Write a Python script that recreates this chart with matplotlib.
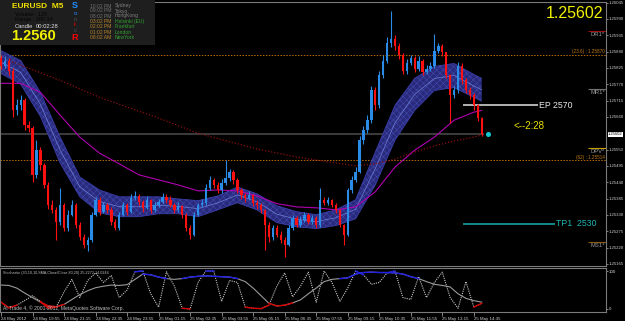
import matplotlib
matplotlib.use("Agg")
import matplotlib.pyplot as plt
import numpy as np
from matplotlib.patches import Rectangle
from matplotlib.transforms import blended_transform_factory

plt.rcParams['font.family'] = ['Liberation Sans', 'DejaVu Sans']
plt.rcParams['hatch.linewidth'] = 0.4

W, H = 625, 321
BULL = '#2a8ce6'
BEAR = '#ff1010'
SMALL = ['Liberation Sans', 'DejaVu Sans']

# EURUSD M5, shown here as 10-minute bars
first_open = 1.25857
close = [1.25833, 1.25850, 1.25816, 1.25682, 1.25699, 1.25716, 1.25632, 1.25622, 1.25465, 1.25548,
         1.25498, 1.25431, 1.25364, 1.25347, 1.25307, 1.25364, 1.25287, 1.25331, 1.25364, 1.25297,
         1.25254, 1.25230, 1.25247, 1.25331, 1.25381, 1.25341, 1.25364, 1.25347, 1.25307, 1.25287,
         1.25331, 1.25364, 1.25341, 1.25388, 1.25394, 1.25374, 1.25354, 1.25381, 1.25347, 1.25364,
         1.25374, 1.25391, 1.25381, 1.25364, 1.25347, 1.25361, 1.25331, 1.25287, 1.25264, 1.25331,
         1.25364, 1.25371, 1.25421, 1.25448, 1.25431, 1.25414, 1.25438, 1.25455, 1.25475, 1.25448,
         1.25414, 1.25398, 1.25388, 1.25398, 1.25371, 1.25364, 1.25347, 1.25297, 1.25254, 1.25287,
         1.25264, 1.25247, 1.25230, 1.25287, 1.25321, 1.25297, 1.25314, 1.25331, 1.25307, 1.25321,
         1.25297, 1.25381, 1.25371, 1.25381, 1.25364, 1.25347, 1.25297, 1.25264, 1.25414, 1.25448,
         1.25475, 1.25582, 1.25615, 1.25649, 1.25749, 1.25699, 1.25800, 1.25850, 1.25910, 1.25924,
         1.25900, 1.25867, 1.25816, 1.25843, 1.25857, 1.25823, 1.25850, 1.25810, 1.25823, 1.25833,
         1.25883, 1.25900, 1.25877, 1.25800, 1.25733, 1.25749, 1.25833, 1.25783, 1.25749, 1.25733,
         1.25699, 1.25656, 1.25602]
high = [1.25870, 1.25865, 1.25860, 1.25825, 1.25720, 1.25735, 1.25725, 1.25645, 1.25630, 1.25582,
        1.25560, 1.25505, 1.25440, 1.25380, 1.25355, 1.25421, 1.25370, 1.25345, 1.25380, 1.25370,
        1.25305, 1.25265, 1.25255, 1.25340, 1.25390, 1.25390, 1.25375, 1.25370, 1.25355, 1.25315,
        1.25340, 1.25375, 1.25370, 1.25400, 1.25410, 1.25400, 1.25380, 1.25395, 1.25385, 1.25375,
        1.25385, 1.25405, 1.25400, 1.25395, 1.25370, 1.25375, 1.25365, 1.25335, 1.25295, 1.25340,
        1.25370, 1.25385, 1.25435, 1.25460, 1.25455, 1.25440, 1.25450, 1.25515, 1.25485, 1.25480,
        1.25455, 1.25420, 1.25405, 1.25410, 1.25400, 1.25380, 1.25370, 1.25350, 1.25305, 1.25295,
        1.25295, 1.25275, 1.25255, 1.25295, 1.25330, 1.25325, 1.25325, 1.25340, 1.25335, 1.25330,
        1.25325, 1.25421, 1.25390, 1.25390, 1.25385, 1.25370, 1.25350, 1.25300, 1.25420, 1.25460,
        1.25490, 1.25595, 1.25630, 1.25665, 1.25765, 1.25760, 1.25815, 1.25870, 1.25930, 1.26017,
        1.25935, 1.25910, 1.25875, 1.25855, 1.25870, 1.25865, 1.25865, 1.25855, 1.25835, 1.25845,
        1.25940, 1.25910, 1.25905, 1.25880, 1.25805, 1.25765, 1.25845, 1.25840, 1.25790, 1.25760,
        1.25740, 1.25705, 1.25660]
low = [1.25820, 1.25825, 1.25800, 1.25660, 1.25665, 1.25685, 1.25615, 1.25610, 1.25440, 1.25455,
       1.25480, 1.25420, 1.25350, 1.25335, 1.25247, 1.25295, 1.25275, 1.25275, 1.25325, 1.25285,
       1.25245, 1.25220, 1.25207, 1.25240, 1.25325, 1.25330, 1.25335, 1.25335, 1.25295, 1.25280,
       1.25280, 1.25325, 1.25330, 1.25335, 1.25380, 1.25365, 1.25340, 1.25350, 1.25335, 1.25340,
       1.25355, 1.25370, 1.25370, 1.25355, 1.25335, 1.25340, 1.25320, 1.25275, 1.25250, 1.25260,
       1.25325, 1.25355, 1.25365, 1.25415, 1.25420, 1.25405, 1.25405, 1.25430, 1.25445, 1.25435,
       1.25405, 1.25385, 1.25375, 1.25380, 1.25360, 1.25350, 1.25335, 1.25213, 1.25240, 1.25245,
       1.25255, 1.25235, 1.25187, 1.25225, 1.25280, 1.25290, 1.25290, 1.25305, 1.25300, 1.25300,
       1.25285, 1.25290, 1.25365, 1.25365, 1.25355, 1.25335, 1.25290, 1.25230, 1.25260, 1.25405,
       1.25440, 1.25470, 1.25570, 1.25605, 1.25640, 1.25685, 1.25690, 1.25790, 1.25840, 1.25895,
       1.25885, 1.25855, 1.25805, 1.25805, 1.25835, 1.25810, 1.25815, 1.25800, 1.25805, 1.25815,
       1.25825, 1.25875, 1.25865, 1.25790, 1.25639, 1.25725, 1.25740, 1.25770, 1.25740, 1.25720,
       1.25685, 1.25645, 1.25595]

# Sonic R dragon band and moving averages (sampled every 5 bars)
band_k = [0, 5, 10, 15, 20, 25, 30, 35, 40, 45, 50, 55, 60, 65, 70, 75, 80, 85, 90, 95, 100,
          105, 110, 115, 120, 122]
band_up = [1.25883, 1.25850, 1.25743, 1.25592, 1.25458, 1.25414, 1.25391, 1.25391, 1.25391,
           1.25384, 1.25378, 1.25394, 1.25424, 1.25401, 1.25361, 1.25341, 1.25331, 1.25347,
           1.25381, 1.25542, 1.25699, 1.25790, 1.25830, 1.25840, 1.25803, 1.25790]
band_dn = [1.25806, 1.25770, 1.25662, 1.25505, 1.25391, 1.25337, 1.25324, 1.25324, 1.25334,
           1.25334, 1.25324, 1.25347, 1.25371, 1.25347, 1.25304, 1.25290, 1.25284, 1.25294,
           1.25317, 1.25431, 1.25582, 1.25682, 1.25749, 1.25759, 1.25726, 1.25713]
ma_mid = [1.25773, 1.25773, 1.25743, 1.25666, 1.25592, 1.25538, 1.25502, 1.25465, 1.25448,
          1.25431, 1.25411, 1.25414, 1.25411, 1.25394, 1.25368, 1.25357, 1.25354, 1.25347,
          1.25357, 1.25408, 1.25491, 1.25548, 1.25592, 1.25649, 1.25676, 1.25682]
slow_k = [2, 15, 25, 40, 50, 65, 75, 90, 95, 100, 105, 110, 115, 120, 122]
ma_slow = [1.25850, 1.25783, 1.25726, 1.25656, 1.25605, 1.25552, 1.25525, 1.25495, 1.25502,
           1.25518, 1.25542, 1.25562, 1.25579, 1.25592, 1.25599]

# Stochastic (every 2 bars)
stoch_fast = [18, 3, 10, 22, 35, 20, 2, 5, 45, 78, 30, 75, 95, 70, 88, 30, 50, 98, 100, 40,
              5, 98, 60, 2, 0, 70, 100, 100, 20, 75, 70, 5, 2, 1, 10, 60, 95, 32, 60, 97,
              18, 100, 70, 20, 55, 100, 90, 65, 70, 95, 100, 30, 25, 85, 30, 70, 97, 30, 2, 72,
              5, 15]
stoch_slow = [63, 62, 55, 42, 30, 18, 8, 6, 12, 25, 38, 48, 56, 60, 63, 62, 64, 78, 92, 90,
              84, 80, 78, 80, 84, 86, 87, 86, 85, 84, 80, 72, 55, 35, 15, 8, 10, 16, 24, 40,
              55, 72, 78, 80, 82, 92, 96, 97, 96, 96, 95, 92, 85, 80, 72, 65, 62, 58, 40, 28,
              22, 18]

time_labels = ['24 May 2012', '24 May 19:55', '24 May 21:15', '24 May 22:35', '24 May 23:55',
               '25 May 01:15', '25 May 02:35', '25 May 03:55', '25 May 05:15', '25 May 06:35',
               '25 May 07:55', '25 May 09:15', '25 May 10:35', '25 May 11:55', '25 May 13:15',
               '25 May 14:35']
price_ticks = [1.25165, 1.25220, 1.25275, 1.25330, 1.25385, 1.25440, 1.25495, 1.25550,
               1.25660, 1.25715, 1.25770, 1.25825, 1.25880, 1.25935, 1.25990, 1.26045]
bid = 1.25602
fib_levels = [(1.25870, '(23.6) : 1.25870'), (1.25514, '(62) : 1.25514')]
pivots = [(1.25950, 'DR1*', '#a01010'), (1.25753, 'MR1*', '#707070'),
          (1.25555, 'DPV*', '#c8a000'), (1.25240, 'MS1*', '#8b5a10')]
entry, target = 1.25700, 1.25300

session_times = ['10:02 PM', '09:02 PM', '08:02 PM', '03:02 PM', '02:02 PM', '01:02 PM', '08:02 AM']
session_names = ['Sydney', 'Tokyo', 'HongKong', 'Helsinki (EU)', 'Frankfurt', 'London', 'NewYork']


def px_box(x0, y0, x1, y1):
    return [x0 / W, 1 - y1 / H, (x1 - x0) / W, (y1 - y0) / H]


fig = plt.figure(figsize=(W / 100, H / 100), dpi=100, facecolor='black')
ax = fig.add_axes(px_box(0, 2, 606, 266), facecolor='black')
sub = fig.add_axes(px_box(0, 268, 606, 312), facecolor='black', sharex=ax)

# --- main window ---
n = len(close)
x = np.arange(n)
cl = np.array(close)
op = np.array([first_open] + close[:-1])
cols = np.where(cl >= op, BULL, BEAR)

bu, bd = np.array(band_up), np.array(band_dn)
ax.fill_between(band_k, bd, bu, facecolor='#2a2a7c', edgecolor='#3f4aac', hatch='xxxxx', lw=0, zorder=1)
ax.plot(band_k, bu, color='#3a3ea8', lw=0.6, zorder=1.5)
ax.plot(band_k, bd, color='#3a3ea8', lw=0.6, zorder=1.5)
ax.plot(band_k, (bu + bd) / 2, color='#7080d8', lw=0.5, zorder=1.5)
ax.plot(band_k, ma_mid, color='#b000b0', lw=0.8, zorder=1.6)
ax.plot(slow_k, ma_slow, color='#8b1010', lw=0.9, ls=(0, (1, 1.5)), zorder=1.6)

ax.vlines(x, low, high, colors=cols, lw=0.8, zorder=3)
ax.bar(x, np.maximum(np.abs(cl - op), 0.00002), bottom=np.minimum(cl, op), width=0.6,
       color=cols, linewidth=0, zorder=3)

for lvl, txt in fib_levels:
    ax.axhline(lvl, color='#b86a00', lw=0.7, ls=(0, (1.5, 1.5)), zorder=0.5)
    ax.text(153.3, lvl + 0.00002, txt, color='#c07a10', fontsize=3.3, ha='right', va='bottom',
            family=SMALL)
for lvl, txt, c in pivots:
    ax.hlines(lvl, 149, 153.6, color=c, lw=0.8)
    ax.text(153.3, lvl - 0.00003, txt, color='#9a9a9a', fontsize=4.2, ha='right', va='top',
            family=SMALL)

ax.hlines(bid, -1, n - 0.5, color='#3c3c3c', lw=1.4, zorder=0.8)
ax.plot([123.6], [bid], 'o', color='#10c8d0', ms=2.6, zorder=4)
ax.hlines(entry, 117.3, 136.3, color='#d0d0d0', lw=1.2)
ax.text(136.6, entry, 'EP 2570', color='#e8e8e8', fontsize=6.3, va='center')
ax.hlines(target, 117.3, 140.6, color='#18a0a0', lw=1.2)
ax.text(140.9, target, 'TP1  2530', color='#20b4b4', fontsize=6.3, va='center')
ax.text(130.0, 1.25629, '<--2:28', color='#e8e000', fontsize=7, va='center')

ax.set_xlim(-0.254, 153.55)
ax.set_ylim(1.25158, 1.26047)
ax.yaxis.tick_right()
ax.set_yticks(price_ticks)
ax.set_yticklabels(['%.5f' % p for p in price_ticks], family=SMALL)
ax.tick_params(axis='y', colors='#9a9a9a', labelcolor='#d0d0d0', labelsize=3.05, length=1.5, pad=0.5, width=0.6)
ax.tick_params(axis='x', bottom=False, labelbottom=False)
blend = blended_transform_factory(ax.transAxes, ax.transData)
ax.text(1.0035, bid, '%.5f' % bid, transform=blend, fontsize=3.0, color='black', va='center',
        ha='left', family=SMALL, bbox=dict(facecolor='white', edgecolor='none', pad=0.3))

# --- stochastic window ---
xs = np.arange(0, 2 * len(stoch_fast), 2)
sf, ss = np.array(stoch_fast, float), np.array(stoch_slow, float)
sub.plot(xs, sf, color='#c8c8c8', lw=0.8, ls=(0, (1, 1)))
sub.plot(xs, ss, color='#9a9a9a', lw=0.8)
for arr in (sf, ss):
    sub.plot(xs, np.ma.masked_less(arr, 80), color='#2020e8', lw=1.0)
    sub.plot(xs, np.ma.masked_greater(arr, 20), color='#d80000', lw=1.0)
sub.set_ylim(-7.9, 107.9)
sub.yaxis.tick_right()
sub.set_yticks([0, 100])
sub.set_yticklabels(['0', '100'], family=SMALL)
sub.tick_params(axis='y', colors='#9a9a9a', labelcolor='#d0d0d0', labelsize=3.2, length=1.5, pad=0.5, width=0.6)
sub.set_xticks(range(0, 8 * len(time_labels), 8))
sub.set_xticklabels(time_labels, family=SMALL)
sub.tick_params(axis='x', colors='#9a9a9a', labelcolor='#d0d0d0', labelsize=3.2, length=3, pad=0.5, width=0.6)
for lab in sub.get_xticklabels():
    lab.set_ha('left')
sub.text(0.005, 0.89, 'Stochastic (30,10,10,SMA,Close/Close,80,20) 25.2272 14.0244',
         transform=sub.transAxes, color='#c0c0c0', fontsize=2.7, va='center', family=SMALL)
sub.text(0.005, 0.08, 'Al Trade 4, \u00a9 2001-2012, MetaQuotes Software Corp.',
         transform=sub.transAxes, color='#c0c0c0', fontsize=3.6, va='center', family=SMALL)

for a in (ax, sub):
    for s in a.spines.values():
        s.set_color('#7a7a7a')
        s.set_linewidth(0.8)

# --- info panel ---
pan = fig.add_axes(px_box(0, 0, 155, 45))
pan.set_xlim(0, 155)
pan.set_ylim(45, 0)
pan.axis('off')
pan.add_patch(Rectangle((0, 0), 155, 45, facecolor='#1e1e1e', edgecolor='none'))
pan.text(12, 6, 'EURUSD  M5', color='#f0e000', fontsize=6, weight='bold', va='center')
pan.text(15, 14, 'Volume : 120', color='#050505', fontsize=4, va='center')
pan.text(15, 20, 'Range : 200 34', color='#050505', fontsize=4, va='center')
pan.text(15, 26, 'Candle', color='#e0e0e0', fontsize=4.2, va='center')
pan.text(36, 26, '00:02:28', color='#e0e0e0', fontsize=4.2, va='center')
pan.text(11, 35.5, '1.2560', color='#f0f000', fontsize=10.5, weight='bold', va='center')
for ch, yy, c, fs, wt in [('S', 6, '#1e90ff', 6.5, 'bold'), ('o', 13.5, '#1e90ff', 4.5, 'normal'),
                          ('n', 19.5, '#505050', 4.5, 'normal'), ('i', 25, '#e00000', 4.5, 'bold'),
                          ('c', 31, '#505050', 4.5, 'normal'), ('R', 38, '#ff0000', 6.5, 'bold')]:
    pan.text(75, yy, ch, color=c, fontsize=fs, weight=wt, ha='center', va='center')
rows = [6, 11, 16, 21.5, 27, 32, 37.5]
for i, (t, nm) in enumerate(zip(session_times, session_names)):
    tc = '#707070' if i < 3 else '#b8862c'
    nc = '#808080' if i < 3 else '#30a030'
    pan.text(90, rows[i], t, color=tc, fontsize=3.6, va='center', family=SMALL)
    pan.text(115, rows[i], nm, color=nc, fontsize=3.6, va='center', family=SMALL)

fig.text(603 / W, 1 - 14 / H, '1.25602', color='#f0f000', fontsize=11.5, ha='right', va='center')

fig.savefig('out.png', dpi=100, facecolor='black')
